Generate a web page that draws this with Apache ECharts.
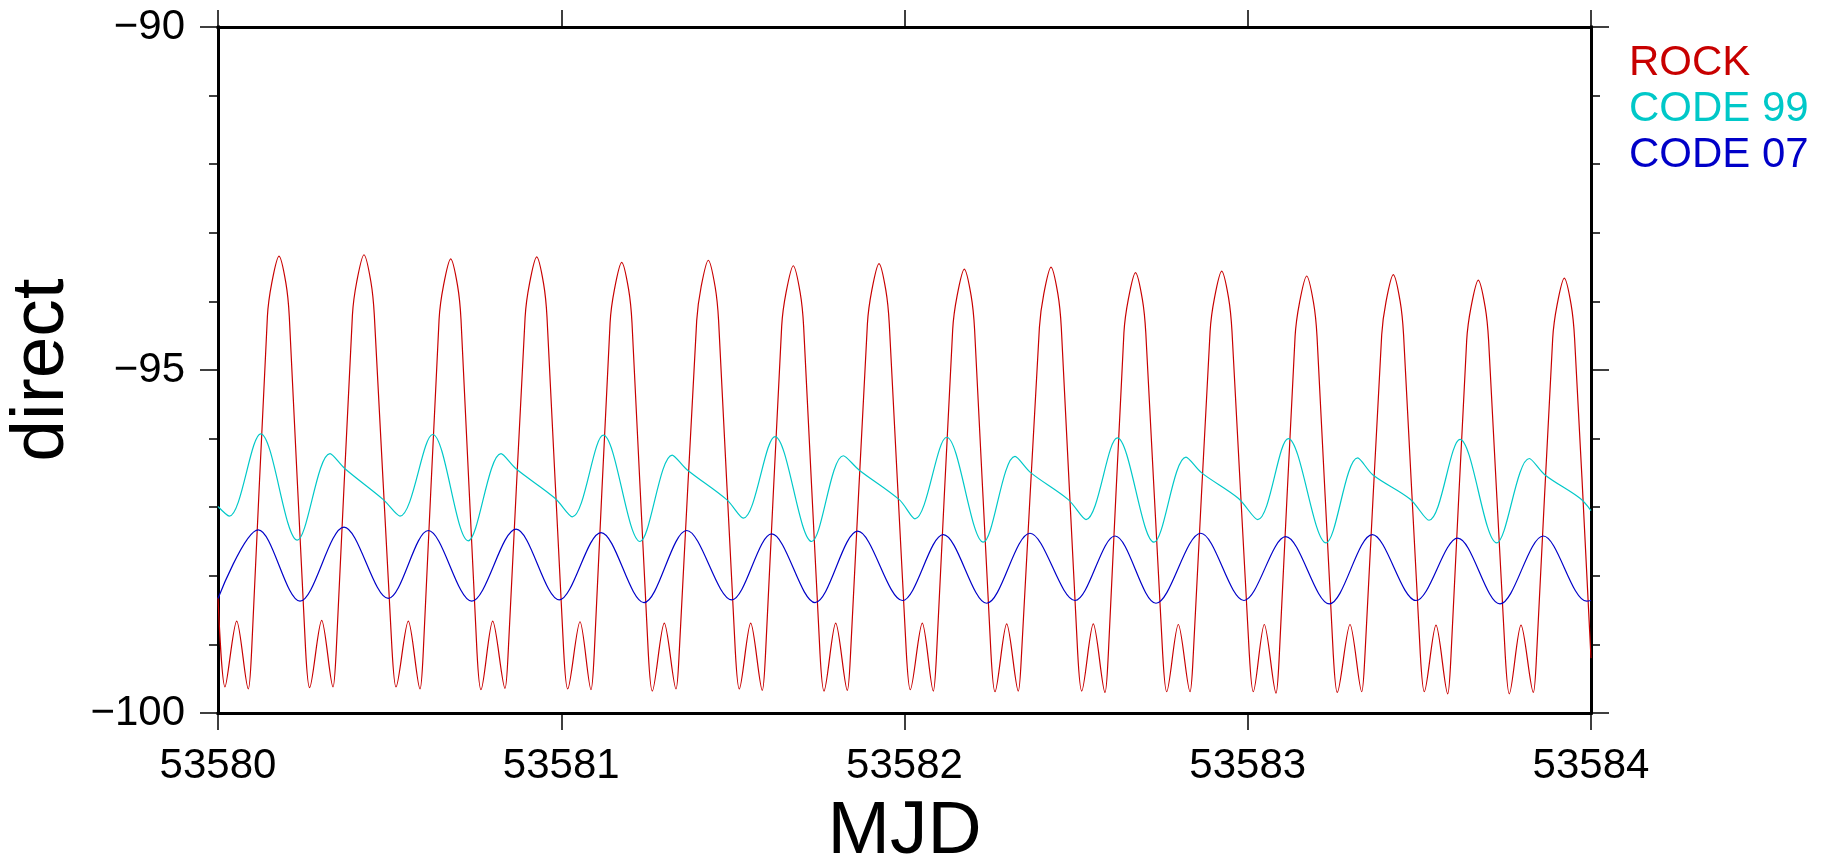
<!DOCTYPE html>
<html>
<head>
<meta charset="utf-8">
<script src="https://cdn.jsdelivr.net/npm/echarts@6/dist/echarts.min.js"></script>
<style>
html,body{margin:0;padding:0;background:#fff;}
#chart{width:1823px;height:861px;}
</style>
</head>
<body>
<div id="chart"></div>
<script>
// ---- data ----
const seriesNames = ['ROCK', 'CODE 99', 'CODE 07'];
const xTicks = [53580, 53581, 53582, 53583, 53584];
const yTicks = [-100, -95, -90];

const rockT = [
53580.0000,53580.0204,53580.0545,53580.0883,53580.0979,53580.1439,
53580.1567,53580.1777,53580.1977,53580.2077,53580.2552,53580.2669,53580.3021,53580.3350,53580.3446,53580.3916,
53580.4043,53580.4253,53580.4453,53580.4554,53580.5069,53580.5186,53580.5544,53580.5885,53580.5981,53580.6441,
53580.6569,53580.6779,53580.6979,53580.7079,53580.7545,53580.7662,53580.8003,53580.8361,53580.8457,53580.8947,
53580.9075,53580.9285,53580.9485,53580.9585,53581.0071,53581.0188,53581.0546,53581.0867,53581.0963,53581.1423,
53581.1551,53581.1761,53581.1961,53581.2061,53581.2536,53581.2653,53581.3002,53581.3343,53581.3439,53581.3946,
53581.4074,53581.4284,53581.4484,53581.4584,53581.5071,53581.5187,53581.5519,53581.5857,53581.5953,53581.6422,
53581.6550,53581.6760,53581.6960,53581.7061,53581.7538,53581.7655,53581.7996,53581.8334,53581.8430,53581.8919,
53581.9047,53581.9257,53581.9457,53581.9557,53582.0052,53582.0169,53582.0518,53582.0839,53582.0935,53582.1404,
53582.1532,53582.1742,53582.1942,53582.2042,53582.2520,53582.2637,53582.2977,53582.3315,53582.3411,53582.3930,
53582.4058,53582.4268,53582.4468,53582.4568,53582.5046,53582.5163,53582.5500,53582.5841,53582.5937,53582.6392,
53582.6520,53582.6730,53582.6930,53582.7030,53582.7522,53582.7639,53582.7977,53582.8318,53582.8414,53582.8903,
53582.9031,53582.9241,53582.9441,53582.9541,53583.0045,53583.0162,53583.0482,53583.0823,53583.0919,53583.1379,
53583.1507,53583.1717,53583.1917,53583.2018,53583.2492,53583.2609,53583.2979,53583.3320,53583.3416,53583.3902,
53583.4030,53583.4240,53583.4440,53583.4540,53583.5027,53583.5144,53583.5484,53583.5825,53583.5921,53583.6378,
53583.6506,53583.6716,53583.6916,53583.7017,53583.7503,53583.7620,53583.7961,53583.8319,53583.8415,53583.8884,
53583.9012,53583.9222,53583.9422,53583.9522,53584.0000
];
const rockV = [
-98.32,-99.62,-98.66,-99.65,-99.10,-94.22,
-93.73,-93.34,-93.73,-94.22,-99.08,-99.63,-98.65,-99.62,-99.07,-94.20,
-93.71,-93.32,-93.71,-94.20,-99.07,-99.62,-98.66,-99.65,-99.10,-94.26,
-93.77,-93.38,-93.77,-94.26,-99.11,-99.66,-98.66,-99.64,-99.09,-94.23,
-93.74,-93.35,-93.74,-94.23,-99.10,-99.65,-98.67,-99.66,-99.11,-94.31,
-93.82,-93.43,-93.82,-94.31,-99.13,-99.68,-98.69,-99.65,-99.10,-94.28,
-93.79,-93.40,-93.79,-94.28,-99.10,-99.65,-98.69,-99.67,-99.12,-94.36,
-93.87,-93.48,-93.87,-94.36,-99.13,-99.68,-98.69,-99.67,-99.12,-94.33,
-93.84,-93.45,-93.84,-94.33,-99.11,-99.66,-98.69,-99.68,-99.13,-94.41,
-93.92,-93.53,-93.92,-94.41,-99.14,-99.69,-98.70,-99.68,-99.13,-94.38,
-93.89,-93.50,-93.89,-94.38,-99.13,-99.68,-98.70,-99.70,-99.15,-94.46,
-93.97,-93.58,-93.97,-94.46,-99.14,-99.69,-98.71,-99.69,-99.14,-94.44,
-93.95,-93.56,-93.95,-94.44,-99.14,-99.69,-98.71,-99.71,-99.16,-94.51,
-94.02,-93.63,-94.02,-94.51,-99.15,-99.70,-98.71,-99.69,-99.14,-94.49,
-94.00,-93.61,-94.00,-94.49,-99.14,-99.69,-98.72,-99.72,-99.17,-94.57,
-94.08,-93.69,-94.08,-94.57,-99.17,-99.72,-98.72,-99.70,-99.15,-94.54,
-94.05,-93.66,-94.05,-94.54,-99.20
];

const code99T = [
53580.0000,53580.0329,53580.1244,53580.2310,53580.3263,53580.3700,53580.4816,
53580.5302,53580.6255,53580.7292,53580.8245,53580.8682,53580.9818,
53581.0322,53581.1225,53581.2294,53581.3232,53581.3655,53581.4820,
53581.5304,53581.6227,53581.7296,53581.8217,53581.8683,53581.9848,
53582.0306,53582.1229,53582.2295,53582.3219,53582.3685,53582.4772,
53582.5288,53582.6200,53582.7269,53582.8201,53582.8658,53582.9724,
53583.0290,53583.1181,53583.2280,53583.3203,53583.3649,53583.4727,
53583.5280,53583.6183,53583.7253,53583.8203,53583.8660,53583.9680,
53584.0000
];
const code99V = [
-96.99,-97.13,-95.93,-97.48,-96.22,-96.44,-96.89,
-97.13,-95.94,-97.49,-96.22,-96.44,-96.87,
-97.14,-95.95,-97.50,-96.24,-96.45,-96.89,
-97.16,-95.97,-97.50,-96.25,-96.46,-96.89,
-97.17,-95.98,-97.51,-96.26,-96.50,-96.89,
-97.18,-95.99,-97.51,-96.27,-96.50,-96.87,
-97.18,-96.00,-97.52,-96.28,-96.53,-96.88,
-97.19,-96.01,-97.52,-96.29,-96.53,-96.87,
-97.05
];

const code07T = [
53580.0000,53580.1174,53580.2389,53580.3671,53580.4961,53580.6127,53580.7391,53580.8682,
53580.9943,53581.1158,53581.2411,53581.3655,53581.4966,53581.6131,53581.7393,53581.8636,
53581.9942,53582.1130,53582.2394,53582.3656,53582.4967,53582.6133,53582.7327,53582.8629,
53582.9891,53583.1105,53583.2376,53583.3628,53583.4901,53583.6117,53583.7349,53583.8610,
53583.9874,53584.0000
];
const code07V = [
-98.33,-97.33,-98.37,-97.29,-98.33,-97.34,-98.37,-97.32,
-98.35,-97.37,-98.39,-97.34,-98.35,-97.39,-98.39,-97.35,
-98.36,-97.40,-98.40,-97.38,-98.36,-97.42,-98.40,-97.38,
-98.36,-97.43,-98.41,-97.40,-98.36,-97.45,-98.41,-97.42,
-98.37,-98.36
];

const colors = ['#c80000', '#00c8c8', '#0000c8'];

// ---- chart ----
const zip = (t, v) => t.map((x, i) => [x, v[i]]);
const FONT = '"Liberation Sans", Arial, Helvetica, sans-serif';
const minus = v => String(v).replace('-', '\u2212');

const chart = echarts.init(document.getElementById('chart'), null, {renderer: 'canvas'});

const axisLine = {show: true, onZero: false, lineStyle: {color: '#000', width: 3, cap: 'square'}};
const tickStyle = {color: '#000', width: 1.5};

const xBase = {
  type: 'value', min: xTicks[0], max: xTicks[xTicks.length - 1], interval: 1,
  axisLine: axisLine, splitLine: {show: false},
  axisTick: {show: true, inside: false, length: 17, lineStyle: tickStyle}
};
const yBase = {
  type: 'value', min: yTicks[0], max: yTicks[yTicks.length - 1], interval: 5,
  axisLine: axisLine, splitLine: {show: false},
  axisTick: {show: true, inside: false, length: 18, lineStyle: tickStyle},
  minorTick: {show: true, splitNumber: 5, length: 9, lineStyle: tickStyle},
  minorSplitLine: {show: false}
};

chart.setOption({
  animation: false,
  backgroundColor: '#fff',
  grid: {left: 218, top: 27, width: 1373, height: 686, containLabel: false, outerBoundsMode: 'none'},
  legend: {
    orient: 'vertical', left: 1624, top: 42, padding: 0,
    icon: 'none', itemWidth: 0, itemHeight: 0, itemGap: 4,
    selectedMode: false,
    textStyle: {fontSize: 42, fontFamily: FONT, lineHeight: 42},
    data: seriesNames.map((n, i) => ({name: n, textStyle: {color: colors[i]}}))
  },
  xAxis: [
    Object.assign({}, xBase, {
      position: 'bottom',
      name: 'MJD', nameLocation: 'middle', nameGap: 82,
      nameTextStyle: {fontSize: 75, fontFamily: FONT, color: '#000'},
      axisLabel: {show: true, margin: 32, fontSize: 42, fontFamily: FONT, color: '#000',
                  formatter: v => String(v)}
    }),
    Object.assign({}, xBase, {position: 'top', axisLabel: {show: false}})
  ],
  yAxis: [
    Object.assign({}, yBase, {
      position: 'left',
      name: 'direct', nameLocation: 'middle', nameGap: 133, nameRotate: 90,
      nameTextStyle: {fontSize: 75, fontFamily: FONT, color: '#000'},
      axisLabel: {show: true, margin: 33, fontSize: 42, fontFamily: FONT, color: '#000',
                  formatter: minus}
    }),
    Object.assign({}, yBase, {position: 'right', axisLabel: {show: false}})
  ],
  series: [
    {name: seriesNames[0], type: 'line', data: zip(rockT, rockV), xAxisIndex: 0, yAxisIndex: 0,
     showSymbol: false, symbol: 'none', smooth: 0.3, color: colors[0],
     lineStyle: {width: 1.2, color: colors[0]}},
    {name: seriesNames[1], type: 'line', data: zip(code99T, code99V), xAxisIndex: 0, yAxisIndex: 0,
     showSymbol: false, symbol: 'none', smooth: 0.33, color: colors[1],
     lineStyle: {width: 1.2, color: colors[1]}},
    {name: seriesNames[2], type: 'line', data: zip(code07T, code07V), xAxisIndex: 0, yAxisIndex: 0,
     showSymbol: false, symbol: 'none', smooth: 0.33, color: colors[2],
     lineStyle: {width: 1.2, color: colors[2]}}
  ]
});
</script>
</body>
</html>
